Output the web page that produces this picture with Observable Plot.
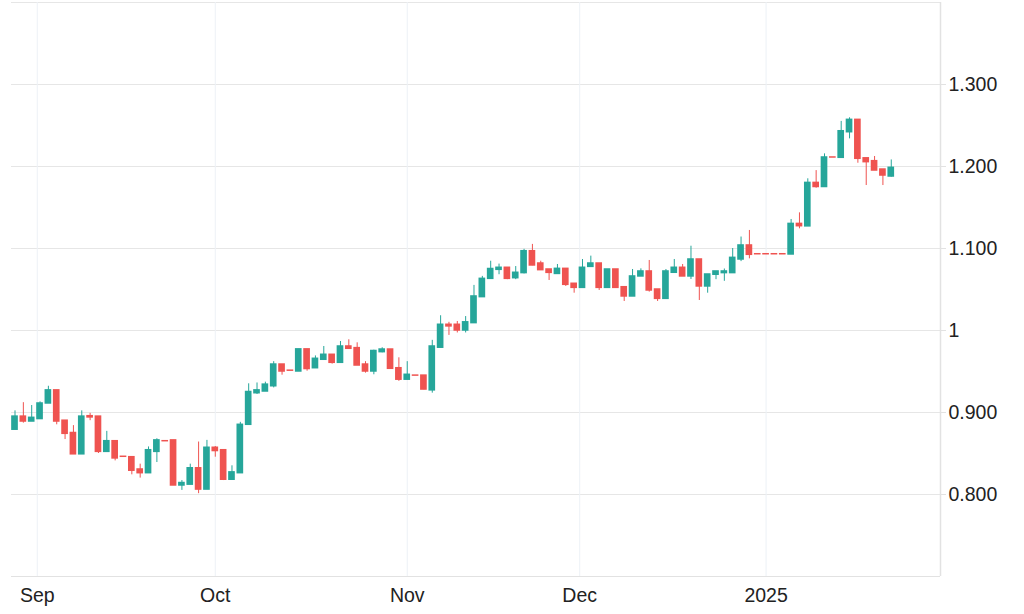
<!DOCTYPE html>
<html>
<head>
<meta charset="utf-8">
<script src="https://cdn.jsdelivr.net/npm/d3@7"></script>
<script src="https://cdn.jsdelivr.net/npm/@observablehq/plot@0.6"></script>
<style>
  html, body { margin: 0; padding: 0; background: #fff; }
  #chart svg { display: block; }
</style>
</head>
<body>
<div id="chart"></div>
<script>
const dates = [
  "2024-08-28","2024-08-29","2024-08-30","2024-09-02","2024-09-03","2024-09-04","2024-09-05","2024-09-06",
  "2024-09-09","2024-09-10","2024-09-11","2024-09-12","2024-09-13","2024-09-16","2024-09-17","2024-09-18",
  "2024-09-19","2024-09-20","2024-09-23","2024-09-24","2024-09-25","2024-09-26","2024-09-27","2024-09-30",
  "2024-10-01","2024-10-02","2024-10-03","2024-10-04","2024-10-07","2024-10-08","2024-10-09","2024-10-10",
  "2024-10-11","2024-10-14","2024-10-15","2024-10-16","2024-10-17","2024-10-18","2024-10-21","2024-10-22",
  "2024-10-23","2024-10-24","2024-10-25","2024-10-28","2024-10-29","2024-10-30","2024-10-31","2024-11-01",
  "2024-11-04","2024-11-05","2024-11-06","2024-11-07","2024-11-08","2024-11-11","2024-11-12","2024-11-13",
  "2024-11-14","2024-11-15","2024-11-18","2024-11-19","2024-11-20","2024-11-21","2024-11-22","2024-11-25",
  "2024-11-26","2024-11-27","2024-11-28","2024-11-29","2024-12-02","2024-12-03","2024-12-04","2024-12-05",
  "2024-12-06","2024-12-09","2024-12-10","2024-12-11","2024-12-12","2024-12-13","2024-12-16","2024-12-17",
  "2024-12-18","2024-12-19","2024-12-20","2024-12-23","2024-12-24","2024-12-25","2024-12-26","2024-12-27",
  "2024-12-30","2024-12-31","2025-01-01","2025-01-02","2025-01-03","2025-01-06","2025-01-07","2025-01-08",
  "2025-01-09","2025-01-10","2025-01-13","2025-01-14","2025-01-15","2025-01-16","2025-01-17","2025-01-20",
  "2025-01-21","2025-01-22"
];
const open = [
  0.879,0.895,0.889,0.892,0.911,0.927,0.890,0.875,0.849,0.8955,0.895,0.852,0.865,0.846,0.8455,0.8305,
  0.826,0.852,0.865,0.866,0.811,0.812,0.832,0.806,0.857,0.854,0.818,0.826,0.885,0.9235,0.9256,0.932,
  0.9585,0.951,0.950,0.977,0.954,0.9643,0.9704,0.9606,0.9805,0.9785,0.9585,0.950,0.9736,0.9768,0.954,0.940,
  0.945,0.945,0.927,0.979,1.007,1.007,1.000,1.009,1.0407,1.063,1.074,1.0765,1.0638,1.070,1.0967,1.0817,
  1.0744,1.069,1.0752,1.057,1.052,1.0776,1.0817,1.052,1.0744,1.0528,1.0415,1.0659,1.072,1.050,1.0386,1.0704,
  1.0765,1.0659,1.0866,1.0537,1.068,1.070,1.070,1.0866,1.1037,1.093,1.093,1.093,1.093,1.0927,1.130,1.127,
  1.180,1.175,1.211,1.2106,1.2418,1.2569,1.210,1.2065,1.1963,1.1878
];
const high = [
  0.902,0.912,0.9085,0.913,0.932,0.927,0.890,0.884,0.902,0.899,0.895,0.877,0.865,0.846,0.8455,0.837,
  0.858,0.868,0.865,0.866,0.817,0.837,0.864,0.866,0.8585,0.854,0.835,0.888,0.935,0.936,0.937,0.962,
  0.9585,0.951,0.977,0.977,0.969,0.9805,0.9704,0.9866,0.9887,0.985,0.962,0.976,0.979,0.9768,0.9667,0.962,
  0.945,0.945,0.988,1.018,1.010,1.011,1.017,1.055,1.066,1.0845,1.081,1.0765,1.078,1.099,1.105,1.0845,
  1.0744,1.0805,1.0752,1.057,1.0866,1.0907,1.0817,1.0744,1.0744,1.0528,1.0744,1.0752,1.0854,1.050,1.0744,1.0866,
  1.0805,1.1028,1.0866,1.0683,1.072,1.075,1.100,1.114,1.122,1.093,1.093,1.093,1.093,1.1354,1.1435,1.185,
  1.195,1.2154,1.211,1.255,1.2594,1.2569,1.210,1.2122,1.1963,1.208
];
const low = [
  0.879,0.887,0.889,0.892,0.911,0.885,0.867,0.849,0.849,0.890,0.850,0.852,0.841,0.846,0.824,0.820,
  0.826,0.839,0.865,0.811,0.805,0.812,0.801,0.806,0.8455,0.817,0.818,0.826,0.885,0.922,0.9256,0.930,
  0.9455,0.951,0.950,0.9504,0.954,0.9643,0.959,0.9606,0.9768,0.9573,0.948,0.946,0.9728,0.9533,0.938,0.940,
  0.945,0.9277,0.9236,0.979,0.994,0.997,0.997,1.009,1.0407,1.063,1.068,1.062,1.062,1.069,1.079,1.0736,
  1.061,1.069,1.0537,1.0455,1.052,1.0776,1.0488,1.052,1.052,1.0354,1.0415,1.0659,1.0468,1.0354,1.0386,1.0704,
  1.0659,1.0622,1.0366,1.0455,1.062,1.060,1.070,1.084,1.0874,1.093,1.093,1.093,1.093,1.0927,1.124,1.127,
  1.1735,1.175,1.211,1.2106,1.2337,1.204,1.1768,1.1951,1.1768,1.187
];
const close = [
  0.895,0.889,0.8935,0.911,0.927,0.889,0.874,0.849,0.895,0.894,0.852,0.865,0.844,0.846,0.829,0.826,
  0.854,0.866,0.865,0.811,0.814,0.832,0.806,0.857,0.853,0.818,0.827,0.885,0.925,0.927,0.934,0.9585,
  0.950,0.951,0.977,0.953,0.9655,0.9704,0.9606,0.9805,0.9777,0.9573,0.950,0.975,0.9768,0.9533,0.940,0.946,
  0.945,0.928,0.9805,1.007,1.005,1.000,1.010,1.0415,1.063,1.075,1.0765,1.063,1.0704,1.0967,1.0793,1.0736,
  1.0703,1.0752,1.0557,1.052,1.0765,1.0817,1.052,1.0744,1.052,1.0415,1.0659,1.072,1.0488,1.0386,1.072,1.0765,
  1.0659,1.0866,1.0537,1.0683,1.072,1.072,1.0886,1.1037,1.0923,1.093,1.093,1.093,1.093,1.130,1.1272,1.180,
  1.175,1.211,1.211,1.243,1.2569,1.2094,1.2053,1.1951,1.189,1.1984
];

// month ticks on the trading-day index (first of month, interpolated across weekends)
const monthTickPos = [2.667, 24, 47, 67.667, 90];
const monthLabels = ["Sep", "Oct", "Nov", "Dec", "2025"];
const priceTicks = [0.8, 0.9, 1.0, 1.1, 1.2, 1.3];
const priceLabels = ["0.800", "0.900", "1", "1.100", "1.200", "1.300"];
const gridPrices = [0.8, 0.9, 1.0, 1.1, 1.2, 1.3, 1.4];
const xDomain = [-0.42, 110.9];
const yDomain = [0.7, 1.4];

const UP = "#26a69a", DOWN = "#ef5350";

const data = dates.map((d, i) => ({
  i, date: d, open: open[i], high: high[i], low: low[i], close: close[i]
}));
const col = d => d.close > d.open ? UP : DOWN;

const chart = Plot.plot({
  width: 1024,
  height: 614,
  marginLeft: 11,
  marginRight: 84,
  marginTop: 2,
  marginBottom: 38,
  style: {
    fontFamily: "'Liberation Sans', Arial, Helvetica, sans-serif",
    fontSize: "19.5px",
    background: "#fff",
    color: "#222"
  },
  x: { type: "linear", domain: xDomain, label: null },
  y: { domain: yDomain, label: null },
  marks: [
    Plot.gridY(gridPrices, { stroke: "#e6e6e6", strokeOpacity: 1 }),
    Plot.gridX(monthTickPos, { stroke: "#edf1f6", strokeOpacity: 1 }),
    Plot.ruleY([yDomain[0]], { stroke: "#e2e2e2" }),
    Plot.ruleX([xDomain[1]], { stroke: "#e2e2e2", strokeWidth: 1.5 }),
    Plot.ruleX(data, { x: "i", y1: "low", y2: "high", stroke: col, strokeWidth: 1 }),
    Plot.rect(data, {
      x1: d => d.i - 0.4, x2: d => d.i + 0.4,
      y1: "open", y2: "close",
      fill: col,
      insetTop: -0.75, insetBottom: -0.75
    }),
    Plot.axisY(priceTicks, {
      anchor: "right",
      label: null,
      tickSize: 5,
      tickPadding: 3,
      stroke: "#e2e2e2",
      fill: "#222",
      tickFormat: d => priceLabels[priceTicks.indexOf(d)]
    }),
    Plot.axisX(monthTickPos, {
      anchor: "bottom",
      label: null,
      tickSize: 0,
      tickPadding: 12,
      fill: "#222",
      tickFormat: d => monthLabels[monthTickPos.indexOf(d)]
    })
  ]
});
document.getElementById("chart").appendChild(chart);
</script>
</body>
</html>
